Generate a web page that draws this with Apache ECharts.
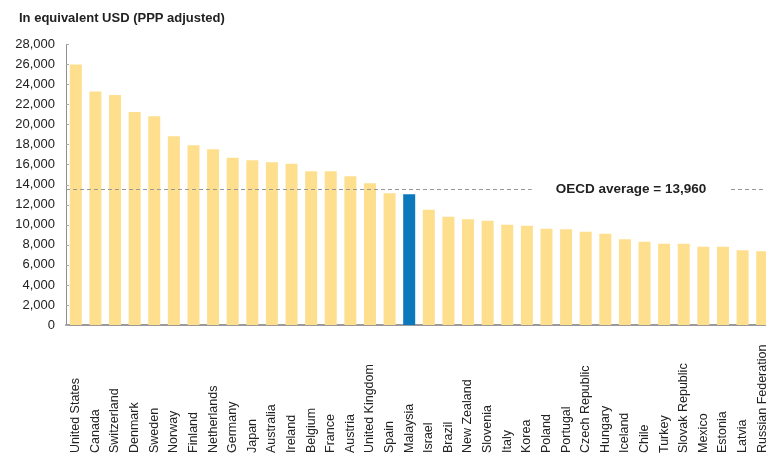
<!DOCTYPE html>
<html><head><meta charset="utf-8">
<script src="https://cdn.jsdelivr.net/npm/echarts@6/dist/echarts.min.js"></script>
<style>html,body{margin:0;padding:0;background:#fff}#c{width:766px;height:456px}</style>
</head><body><div id="c"></div>
<script>
const countries = ['United States','Canada','Switzerland','Denmark','Sweden','Norway','Finland','Netherlands','Germany','Japan','Australia','Ireland','Belgium','France','Austria','United Kingdom','Spain','Malaysia','Israel','Brazil','New Zealand','Slovenia','Italy','Korea','Poland','Portugal','Czech Republic','Hungary','Iceland','Chile','Turkey','Slovak Republic','Mexico','Estonia','Latvia','Russian Federation'];
const spending = [26000,23300,22950,21250,20850,18850,17950,17550,16700,16450,16250,16100,15350,15350,14850,14150,13150,13050,11500,10800,10550,10400,10000,9900,9600,9550,9300,9100,8550,8300,8100,8100,7800,7800,7450,7350];
const highlightCountry = 'Malaysia';
const oecdAverageLine = 13550;
const oecdLabel = 'OECD average = 13,960';
const yMin = 0, yMax = 28000, yStep = 2000;
const titleText = 'In equivalent USD (PPP adjusted)';

const FONT = '"Liberation Sans", Arial, sans-serif';
const chart = echarts.init(document.getElementById('c'));
chart.setOption({
  animation: false,
  backgroundColor: '#fff',
  title: { text: titleText, left: 14, top: 7, textStyle: { fontFamily: FONT, fontSize: 13, fontWeight: 'bold', color: '#222' } },
  grid: { left: 66, right: -6, top: 44.5, bottom: 131, containLabel: false, outerBoundsMode: 'none' },
  xAxis: {
    type: 'category', data: countries,
    axisLine: { show: true, lineStyle: { color: '#9a9a9a', width: 2 } },
    axisTick: { show: false },
    axisLabel: { interval: 0, rotate: 90, align: 'left', margin: 128, fontFamily: FONT, fontSize: 12.5, color: '#222' }
  },
  yAxis: {
    type: 'value', min: yMin, max: yMax, interval: yStep,
    axisLine: { show: true, lineStyle: { color: '#909090', width: 1 } },
    axisTick: { show: true, inside: true, length: 3, lineStyle: { color: '#aaa' } },
    splitLine: { show: false },
    axisLabel: { margin: 11, fontFamily: FONT, fontSize: 13, color: '#222', formatter: v => v.toLocaleString('en-US') }
  },
  series: [{
    type: 'bar', barWidth: 12,
    data: spending.map((v, i) => ({ value: v, itemStyle: { color: countries[i] === highlightCountry ? '#0B77BD' : '#FEDF8D' } })),
    markLine: {
      silent: true, symbol: 'none',
      lineStyle: { type: [4, 3], color: '#999', width: 1 },
      label: { show: true, position: 'middle', formatter: oecdLabel, offset: [212, 0], distance: 0, verticalAlign: 'middle',
        backgroundColor: '#fff', padding: [2, 24], fontFamily: FONT, fontSize: 13.5, fontWeight: 'bold', color: '#222' },
      data: [{ yAxis: oecdAverageLine }]
    }
  }]
});
</script></body></html>
